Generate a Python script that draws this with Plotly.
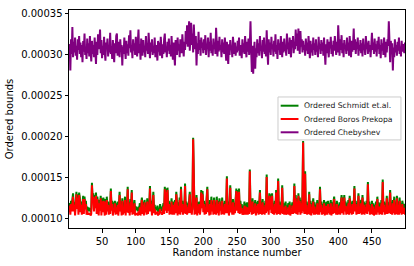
import plotly.graph_objects as go

# values in units of 1e-6
chebyshev_u = [
305,312,280,318,300,333,296,315,302,320,298,310,293,318,305,322,300,314,296,311,290,316,303,325,299,
308,294,319,301,313,297,322,305,291,316,300,311,296,320,304,288,315,299,324,306,312,330,301,317,295,
310,299,321,303,292,314,306,319,297,311,302,326,300,309,294,317,305,290,313,301,322,325,298,307,315,
296,318,303,311,286,309,300,320,305,294,316,301,312,298,323,307,329,302,310,295,318,304,313,299,321,
306,297,315,330,301,312,293,319,305,298,317,302,310,296,322,304,311,300,326,307,295,314,303,318,299,
309,301,320,296,311,305,292,316,303,314,298,321,307,295,312,300,318,325,302,309,296,315,304,319,300,
311,297,322,305,293,314,302,286,317,306,299,320,304,312,296,318,308,301,324,310,297,315,305,328,312,
335,309,320,340,304,318,338,311,325,302,336,315,306,322,286,313,300,327,305,317,298,320,309,314,301,
318,305,323,299,312,307,320,296,315,304,326,301,311,298,319,306,314,300,332,310,297,316,303,321,305,
311,296,318,302,314,300,320,306,292,315,304,288,312,299,317,305,310,296,321,303,300,314,298,309,302,
316,304,320,298,311,306,295,318,302,313,300,322,307,296,315,303,319,299,312,340,305,278,310,276,300,
315,282,307,296,318,301,313,298,322,304,310,295,317,303,320,300,311,297,329,305,287,318,302,314,299,
321,306,312,297,316,303,324,300,311,294,318,305,313,299,322,307,296,315,302,319,304,310,298,325,306,
314,300,320,303,296,317,308,322,301,313,306,330,310,325,304,331,315,300,328,309,318,302,316,305,311,
298,319,304,314,300,322,307,295,316,302,312,298,320,305,313,299,318,303,309,296,321,306,312,300,317,
304,314,298,320,305,287,312,301,318,303,296,315,307,321,300,311,297,316,304,322,308,299,315,302,335,
310,298,318,305,323,301,313,296,317,306,311,300,320,304,314,298,322,307,296,316,303,312,331,305,318,
300,315,306,320,298,311,304,317,301,313,297,319,305,310,299,322,306,314,300,316,303,311,296,318,326,
305,314,300,319,303,312,297,316,306,321,300,311,295,318,304,313,299,320,307,296,315,302,318,310,340,
305,290,316,300,313,280,308,296,318,302,311,298,315,304,320,300,309,297,316,303,312,306,301,314,305,
]

schmidt_u = [
112,118,110,121,115,123,130,114,119,108,122,132,117,129,111,131,125,113,120,109,118,127,112,126,116,
121,110,114,108,113,109,112,107,111,143,124,130,115,128,118,131,113,126,119,110,122,115,127,109,124,
113,125,118,108,123,111,126,114,120,109,117,112,136,115,121,108,119,113,121,110,118,112,120,109,116,
132,114,120,108,124,111,118,113,126,109,121,115,138,112,119,108,123,114,134,110,117,112,122,108,114,
110,113,108,114,111,118,109,116,125,112,120,108,122,113,118,110,124,111,119,115,139,114,121,110,117,
132,112,116,108,113,110,115,107,112,109,117,111,114,108,113,118,110,138,116,136,112,137,115,121,109,
118,112,124,109,120,114,110,122,113,132,116,108,119,112,125,110,138,114,121,109,117,113,142,111,120,
110,118,113,121,132,112,117,109,120,198,115,110,122,111,128,108,119,113,120,109,116,134,118,133,114,
121,110,118,112,124,138,113,119,108,122,111,126,114,120,109,125,112,118,110,126,113,121,108,124,115,
119,110,125,112,118,109,121,113,116,151,112,120,108,117,140,114,119,110,123,111,118,112,122,136,115,
134,112,136,110,121,113,117,109,115,108,120,111,118,107,119,110,116,112,159,113,120,109,124,111,118,
112,122,108,119,113,121,110,117,134,112,120,109,123,111,118,108,121,113,153,114,120,110,130,116,129,
113,130,111,118,109,121,112,134,110,119,148,112,120,109,117,113,140,111,118,108,116,120,109,115,111,
118,110,120,108,115,112,119,111,116,142,113,128,111,124,109,130,114,125,110,122,113,128,194,116,112,
157,111,120,109,117,112,132,110,121,108,118,113,124,110,119,108,116,112,122,109,118,111,138,113,120,
110,117,112,122,108,119,111,120,109,121,112,118,110,122,108,119,111,120,126,113,118,110,121,109,116,
112,119,110,117,128,112,125,111,128,114,120,109,118,112,122,110,127,113,119,110,121,112,118,139,114,
121,110,118,112,130,111,119,113,122,109,128,112,120,110,118,113,121,111,144,115,120,109,117,112,121,
110,118,108,116,111,120,109,126,113,119,110,118,112,122,109,147,114,120,110,118,112,127,111,119,113,
120,134,112,119,110,122,113,126,109,118,112,127,110,120,111,125,112,118,109,121,116,112,117,110,118,
]

boros_u = [
107,115,104,117,108,120,126,108,116,103,118,129,111,125,104,128,120,107,116,104,115,123,105,123,111,
117,104,109,104,106,104,106,103,105,140,119,126,108,125,112,127,105,123,114,103,118,109,124,103,120,
107,121,113,103,120,104,122,108,116,104,111,105,133,109,117,103,112,107,118,104,113,105,116,103,111,
128,108,116,103,121,104,113,106,122,103,117,107,135,106,114,103,119,107,131,104,112,105,118,103,106,
104,106,103,108,104,113,103,112,122,105,116,103,119,107,113,104,120,105,114,108,136,108,117,103,112,
128,106,111,104,107,105,108,103,106,104,111,106,107,104,107,114,105,135,109,132,106,134,109,117,104,
113,105,120,104,116,107,104,119,106,129,110,103,115,105,122,104,135,107,117,104,111,106,139,105,116,
104,113,106,117,129,106,112,104,116,196,108,104,118,105,125,103,115,106,117,104,110,131,112,129,107,
117,104,113,105,120,135,107,115,103,117,104,122,108,116,104,122,105,113,104,122,106,117,103,120,109,
114,104,121,105,113,104,117,106,110,148,106,116,103,111,137,107,114,104,119,104,113,106,118,133,109,
131,106,132,105,117,106,112,104,109,104,115,104,114,104,113,104,111,105,157,107,116,104,120,105,113,
106,118,103,115,106,117,104,112,131,105,116,104,119,105,113,104,116,106,150,108,115,104,127,110,125,
106,127,105,113,104,117,106,131,104,115,145,105,116,104,111,106,137,105,113,104,110,115,104,108,105,
113,104,116,103,109,105,115,105,111,139,106,124,105,120,104,127,107,121,104,118,106,124,192,110,105,
154,105,116,104,111,105,129,104,117,103,113,106,120,104,114,104,110,105,118,104,112,104,135,107,116,
104,112,105,118,103,115,104,115,104,117,106,113,104,118,103,114,105,116,123,106,113,104,117,104,109,
105,115,104,112,125,106,121,104,125,108,115,104,114,105,118,104,124,106,114,104,117,105,113,136,108,
117,104,113,105,127,105,114,106,118,104,125,105,116,104,113,106,117,105,141,108,116,104,111,105,117,
104,114,103,111,104,116,104,123,107,114,104,114,105,118,104,144,107,116,104,113,105,124,105,115,106,
116,131,105,114,104,118,106,122,104,112,105,124,104,116,104,121,106,113,104,117,110,105,112,104,114,
]

series_names = ["Ordered Schmidt et.al.", "Ordered Boros Prekopa", "Ordered Chebyshev"]
series_colors = ["green", "red", "purple"]
x_ticks = [50, 100, 150, 200, 250, 300, 350, 400, 450]
y_ticks = [0.00010, 0.00015, 0.00020, 0.00025, 0.00030, 0.00035]
y_tick_text = ["0.00010", "0.00015", "0.00020", "0.00025", "0.00030", "0.00035"]

scale = 1e-6
series = [
    [v * scale for v in schmidt_u],
    [v * scale for v in boros_u],
    [v * scale for v in chebyshev_u],
]

fig = go.Figure()
for name, color, vals in zip(series_names, series_colors, series):
    fig.add_trace(go.Scatter(x=list(range(1, len(vals) + 1)), y=vals, mode="lines",
                             name=name, line=dict(color=color, width=2),
                             showlegend=False))

axis_common = dict(showline=True, linecolor="black", linewidth=1, mirror=True,
                   ticks="outside", ticklen=3.5, tickcolor="black", showgrid=False,
                   zeroline=False, automargin=False,
                   tickfont=dict(family="DejaVu Sans", size=10, color="black"))

# manual legend (matplotlib style, compact)
shapes = [dict(type="rect", xref="paper", yref="paper", x0=0.622, x1=0.988,
               y0=0.404, y1=0.601, line=dict(color="#cccccc", width=1),
               fillcolor="rgba(255,255,255,0.8)", layer="above")]
annotations = []
row_y = [0.561, 0.500, 0.439]
for name, color, yy in zip(series_names, series_colors, row_y):
    shapes.append(dict(type="line", xref="paper", yref="paper", x0=0.630, x1=0.683,
                       y0=yy, y1=yy, line=dict(color=color, width=2), layer="above"))
    annotations.append(dict(xref="paper", yref="paper", x=0.693, y=yy, text=name,
                            showarrow=False, xanchor="left", yanchor="middle",
                            font=dict(family="DejaVu Sans", size=7.7, color="#222222")))

fig.update_layout(
    width=414, height=266,
    margin=dict(l=69, r=9, t=10, b=38),
    paper_bgcolor="white", plot_bgcolor="white",
    font=dict(family="DejaVu Sans", size=10, color="black"),
    xaxis=dict(range=[1, 499], tickvals=x_ticks,
               title=dict(text="Random instance number", font=dict(size=10), standoff=2),
               **axis_common),
    yaxis=dict(range=[0.0000878, 0.0003537], tickvals=y_ticks, ticktext=y_tick_text,
               title=dict(text="Ordered bounds", font=dict(size=10), standoff=5),
               **axis_common),
    shapes=shapes,
    annotations=annotations,
    showlegend=False,
)

fig.write_html("out.html", config={"displayModeBar": False},
               post_script="document.body.style.margin='0';document.body.style.overflow='hidden';")
